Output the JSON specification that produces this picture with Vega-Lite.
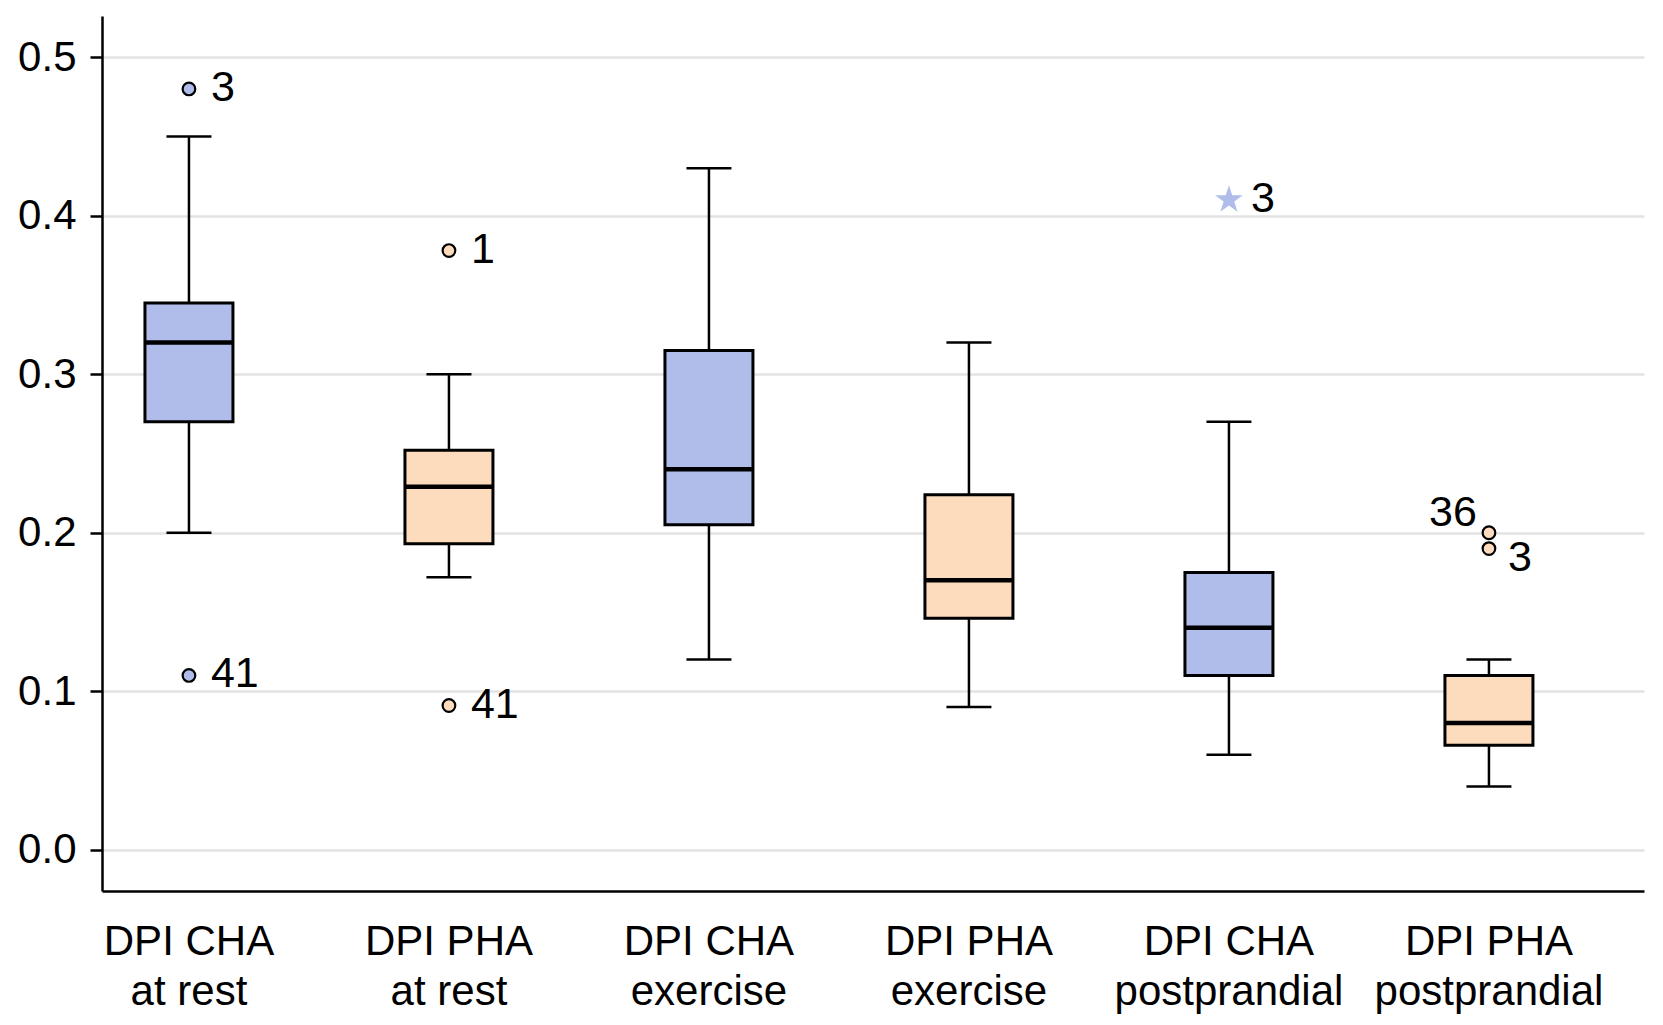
{
  "$schema": "https://vega.github.io/schema/vega-lite/v6.json",
  "width": 1542,
  "height": 875,
  "autosize": {"type": "none"},
  "padding": {"left": 102, "top": 16, "right": 19, "bottom": 134},
  "background": "white",
  "config": {
    "view": {"stroke": null},
    "font": "Liberation Sans",
    "axis": {"labelFont": "Liberation Sans", "labelColor": "black", "labelFontSize": 42, "domainColor": "black", "domainWidth": 2.5, "tickColor": "black", "tickWidth": 2.5, "title": null}
  },
  "datasets": {
    "boxes": [
      {"group": "DPI CHA\nat rest", "cohort": "CHA", "lower": 0.20, "q1": 0.27, "median": 0.32, "q3": 0.345, "upper": 0.45},
      {"group": "DPI PHA\nat rest", "cohort": "PHA", "lower": 0.172, "q1": 0.193, "median": 0.229, "q3": 0.252, "upper": 0.30},
      {"group": "DPI CHA\nexercise", "cohort": "CHA", "lower": 0.12, "q1": 0.205, "median": 0.24, "q3": 0.315, "upper": 0.43},
      {"group": "DPI PHA\nexercise", "cohort": "PHA", "lower": 0.09, "q1": 0.146, "median": 0.17, "q3": 0.224, "upper": 0.32},
      {"group": "DPI CHA\npostprandial", "cohort": "CHA", "lower": 0.06, "q1": 0.11, "median": 0.14, "q3": 0.175, "upper": 0.27},
      {"group": "DPI PHA\npostprandial", "cohort": "PHA", "lower": 0.04, "q1": 0.066, "median": 0.08, "q3": 0.11, "upper": 0.12}
    ],
    "outliers": [
      {"group": "DPI CHA\nat rest", "cohort": "CHA", "value": 0.48, "label": "3", "kind": "outlier"},
      {"group": "DPI CHA\nat rest", "cohort": "CHA", "value": 0.11, "label": "41", "kind": "outlier"},
      {"group": "DPI PHA\nat rest", "cohort": "PHA", "value": 0.378, "label": "1", "kind": "outlier"},
      {"group": "DPI PHA\nat rest", "cohort": "PHA", "value": 0.091, "label": "41", "kind": "outlier"},
      {"group": "DPI CHA\npostprandial", "cohort": "CHA", "value": 0.41, "label": "3", "kind": "extreme"},
      {"group": "DPI PHA\npostprandial", "cohort": "PHA", "value": 0.20, "label": "36", "kind": "outlier"},
      {"group": "DPI PHA\npostprandial", "cohort": "PHA", "value": 0.19, "label": "3", "kind": "outlier"}
    ]
  },
  "encoding": {
    "x": {
      "field": "group", "type": "nominal", "sort": null,
      "scale": {"type": "band", "paddingInner": 0.5, "paddingOuter": 0.2154, "align": 0.196,
        "domain": ["DPI CHA\nat rest", "DPI PHA\nat rest", "DPI CHA\nexercise", "DPI PHA\nexercise", "DPI CHA\npostprandial", "DPI PHA\npostprandial"]},
      "axis": {"orient": "bottom", "ticks": false, "labelPadding": 30, "labelAngle": 0, "labelLineHeight": 50, "labelLimit": 600, "labelExpr": "split(datum.label, '\\n')", "grid": false, "labelBaseline": "top"}
    }
  },
  "layer": [
    {
      "data": {"name": "boxes"},
      "mark": {"type": "rule", "color": "black", "strokeWidth": 2.5},
      "encoding": {
        "y": {"field": "lower", "type": "quantitative",
          "scale": {"domain": [-0.026, 0.526], "nice": false, "zero": false},
          "axis": {"orient": "left", "values": [0, 0.1, 0.2, 0.3, 0.4, 0.5], "format": ".1f", "grid": true, "gridColor": "#e3e3e3", "gridWidth": 2.5, "tickSize": 12, "labelPadding": 14}},
        "y2": {"field": "upper"}
      }
    },
    {
      "data": {"name": "boxes"},
      "mark": {"type": "bar", "size": 88, "stroke": "black", "strokeWidth": 3},
      "encoding": {
        "y": {"field": "q1", "type": "quantitative"},
        "y2": {"field": "q3"},
        "fill": {"field": "cohort", "type": "nominal", "scale": {"domain": ["CHA", "PHA"], "range": ["#b0bdea", "#fddcbd"]}, "legend": null}
      }
    },
    {
      "data": {"name": "boxes"},
      "mark": {"type": "tick", "size": 86, "thickness": 4.5, "color": "black", "opacity": 1},
      "encoding": {"y": {"field": "median", "type": "quantitative"}}
    },
    {
      "data": {"name": "boxes"},
      "mark": {"type": "tick", "size": 45, "thickness": 2.5, "color": "black", "opacity": 1},
      "encoding": {"y": {"field": "upper", "type": "quantitative"}}
    },
    {
      "data": {"name": "boxes"},
      "mark": {"type": "tick", "size": 45, "thickness": 2.5, "color": "black", "opacity": 1},
      "encoding": {"y": {"field": "lower", "type": "quantitative"}}
    },
    {
      "data": {"name": "outliers"},
      "transform": [{"filter": "!(datum.cohort == 'PHA' && datum.value >= 0.19 && datum.value <= 0.2)"}],
      "mark": {"type": "text", "align": "left", "baseline": "middle", "dx": 22, "dy": -1, "fontSize": 43, "fill": "black", "font": "Liberation Sans"},
      "encoding": {"y": {"field": "value", "type": "quantitative"}, "text": {"field": "label", "type": "nominal"}}
    },
    {
      "data": {"name": "outliers"},
      "transform": [{"filter": "datum.label == '36'"}],
      "mark": {"type": "text", "align": "right", "baseline": "middle", "dx": -12, "dy": -20, "fontSize": 43, "fill": "black", "font": "Liberation Sans"},
      "encoding": {"y": {"field": "value", "type": "quantitative"}, "text": {"field": "label", "type": "nominal"}}
    },
    {
      "data": {"name": "outliers"},
      "transform": [{"filter": "datum.cohort == 'PHA' && datum.value < 0.195 && datum.value > 0.185"}],
      "mark": {"type": "text", "align": "left", "baseline": "middle", "dx": 19, "dy": 9, "fontSize": 43, "fill": "black", "font": "Liberation Sans"},
      "encoding": {"y": {"field": "value", "type": "quantitative"}, "text": {"field": "label", "type": "nominal"}}
    },
    {
      "data": {"name": "outliers"},
      "transform": [{"filter": "datum.kind == 'outlier'"}],
      "mark": {"type": "point", "shape": "circle", "filled": true, "size": 160, "stroke": "black", "strokeWidth": 2.2, "opacity": 1},
      "encoding": {
        "y": {"field": "value", "type": "quantitative"},
        "fill": {"field": "cohort", "type": "nominal", "legend": null}
      }
    },
    {
      "data": {"name": "outliers"},
      "transform": [{"filter": "datum.kind == 'extreme'"}],
      "mark": {"type": "point", "shape": "M0,-1L0.2245,-0.309L0.951,-0.309L0.363,0.118L0.588,0.809L0,0.382L-0.588,0.809L-0.363,0.118L-0.951,-0.309L-0.2245,-0.309Z", "filled": true, "size": 850, "strokeWidth": 0, "opacity": 1},
      "encoding": {
        "y": {"field": "value", "type": "quantitative"},
        "fill": {"field": "cohort", "type": "nominal", "legend": null}
      }
    }
  ]
}
